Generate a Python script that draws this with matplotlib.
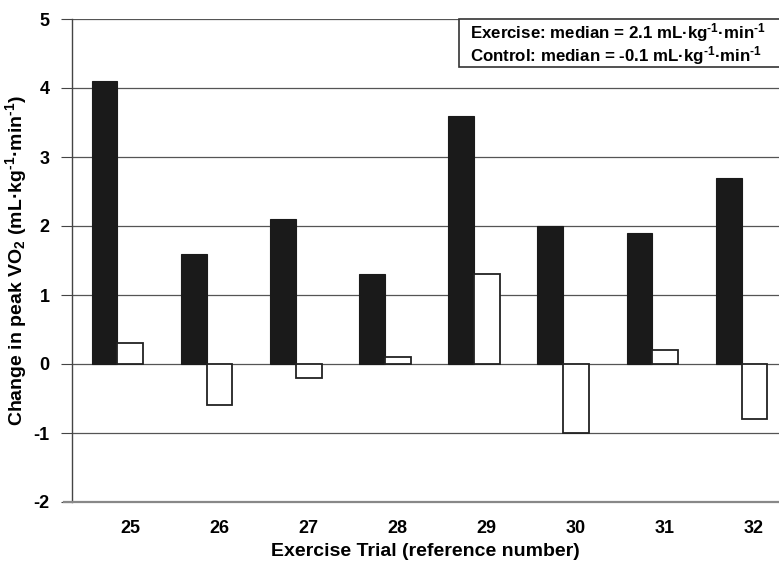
import matplotlib
matplotlib.use("Agg")
import matplotlib.pyplot as plt
import numpy as np

plt.rcParams['font.family'] = ['Liberation Sans', 'DejaVu Sans']
plt.rcParams['mathtext.fontset'] = 'custom'
plt.rcParams['mathtext.rm'] = 'Liberation Sans:bold'
plt.rcParams['mathtext.bf'] = 'Liberation Sans:bold'
plt.rcParams['mathtext.it'] = 'Liberation Sans:bold'

trials = ['25', '26', '27', '28', '29', '30', '31', '32']
exercise = [4.1, 1.6, 2.1, 1.3, 3.6, 2.0, 1.9, 2.7]
control = [0.3, -0.6, -0.2, 0.1, 1.3, -1.0, 0.2, -0.8]
legend_lines = [r'Exercise: median = 2.1 mL·kg$^{\text{-1}}$·min$^{\text{-1}}$',
                r'Control: median = -0.1 mL·kg$^{\text{-1}}$·min$^{\text{-1}}$']

W, H = 779, 564
fig = plt.figure(figsize=(W / 100, H / 100), dpi=100)
ax = fig.add_axes([72 / W, 1 - 502 / H, 1 - 72 / W, (502 - 19) / H])

x = np.arange(len(trials))
bw = 0.29
ax.bar(x - bw / 2, exercise, width=bw, color='#1a1a1a', edgecolor='#1a1a1a', linewidth=0.8, zorder=3)
ax.bar(x + bw / 2, control, width=bw, color='white', edgecolor='#222222', linewidth=1.3, zorder=3)

ax.set_xlim(-0.51, len(trials) - 1 + 0.42)
ax.set_ylim(-2, 5)
ax.set_yticks(range(-2, 6))
ax.set_yticklabels([str(v) for v in range(-2, 6)], fontsize=13, fontweight='bold')
ax.set_xticks(x + 0.14)
ax.set_xticklabels(trials, fontsize=13, fontweight='bold')
ax.tick_params(axis='x', length=0, pad=13)
ax.tick_params(axis='y', length=8, width=0.8, color='#444444', pad=8)

for yv in range(-1, 6):
    ax.axhline(yv, color='#555555', linewidth=0.9, zorder=1)

for s in ['top', 'right']:
    ax.spines[s].set_visible(False)
ax.spines['left'].set_color('#444444')
ax.spines['left'].set_linewidth(1.0)
ax.spines['bottom'].set_color('#888888')
ax.spines['bottom'].set_linewidth(1.6)
ax.spines['bottom'].set_bounds(-0.6, len(trials) - 1 + 0.42)
ax.spines['bottom'].set_clip_on(False)

ax.set_ylabel(r'Change in peak VO$_{2}$ (mL·kg$^{\text{-1}}$·min$^{\text{-1}}$)', fontsize=14, fontweight='bold', labelpad=3)
ax.set_xlabel('Exercise Trial (reference number)', fontsize=14, fontweight='bold', labelpad=4)

rect = plt.Rectangle((459 / W, 1 - 67 / H), 1 - 459 / W + 0.01, 48 / H, transform=fig.transFigure,
                     facecolor='white', edgecolor='#333333', linewidth=1.2, zorder=5)
fig.patches.append(rect)
fig.text(470 / W, 1 - 21 / H, '\n'.join(legend_lines), fontsize=12.2, fontweight='bold',
         va='top', ha='left', linespacing=1.0, zorder=6)

fig.savefig('out.png', dpi=100)
